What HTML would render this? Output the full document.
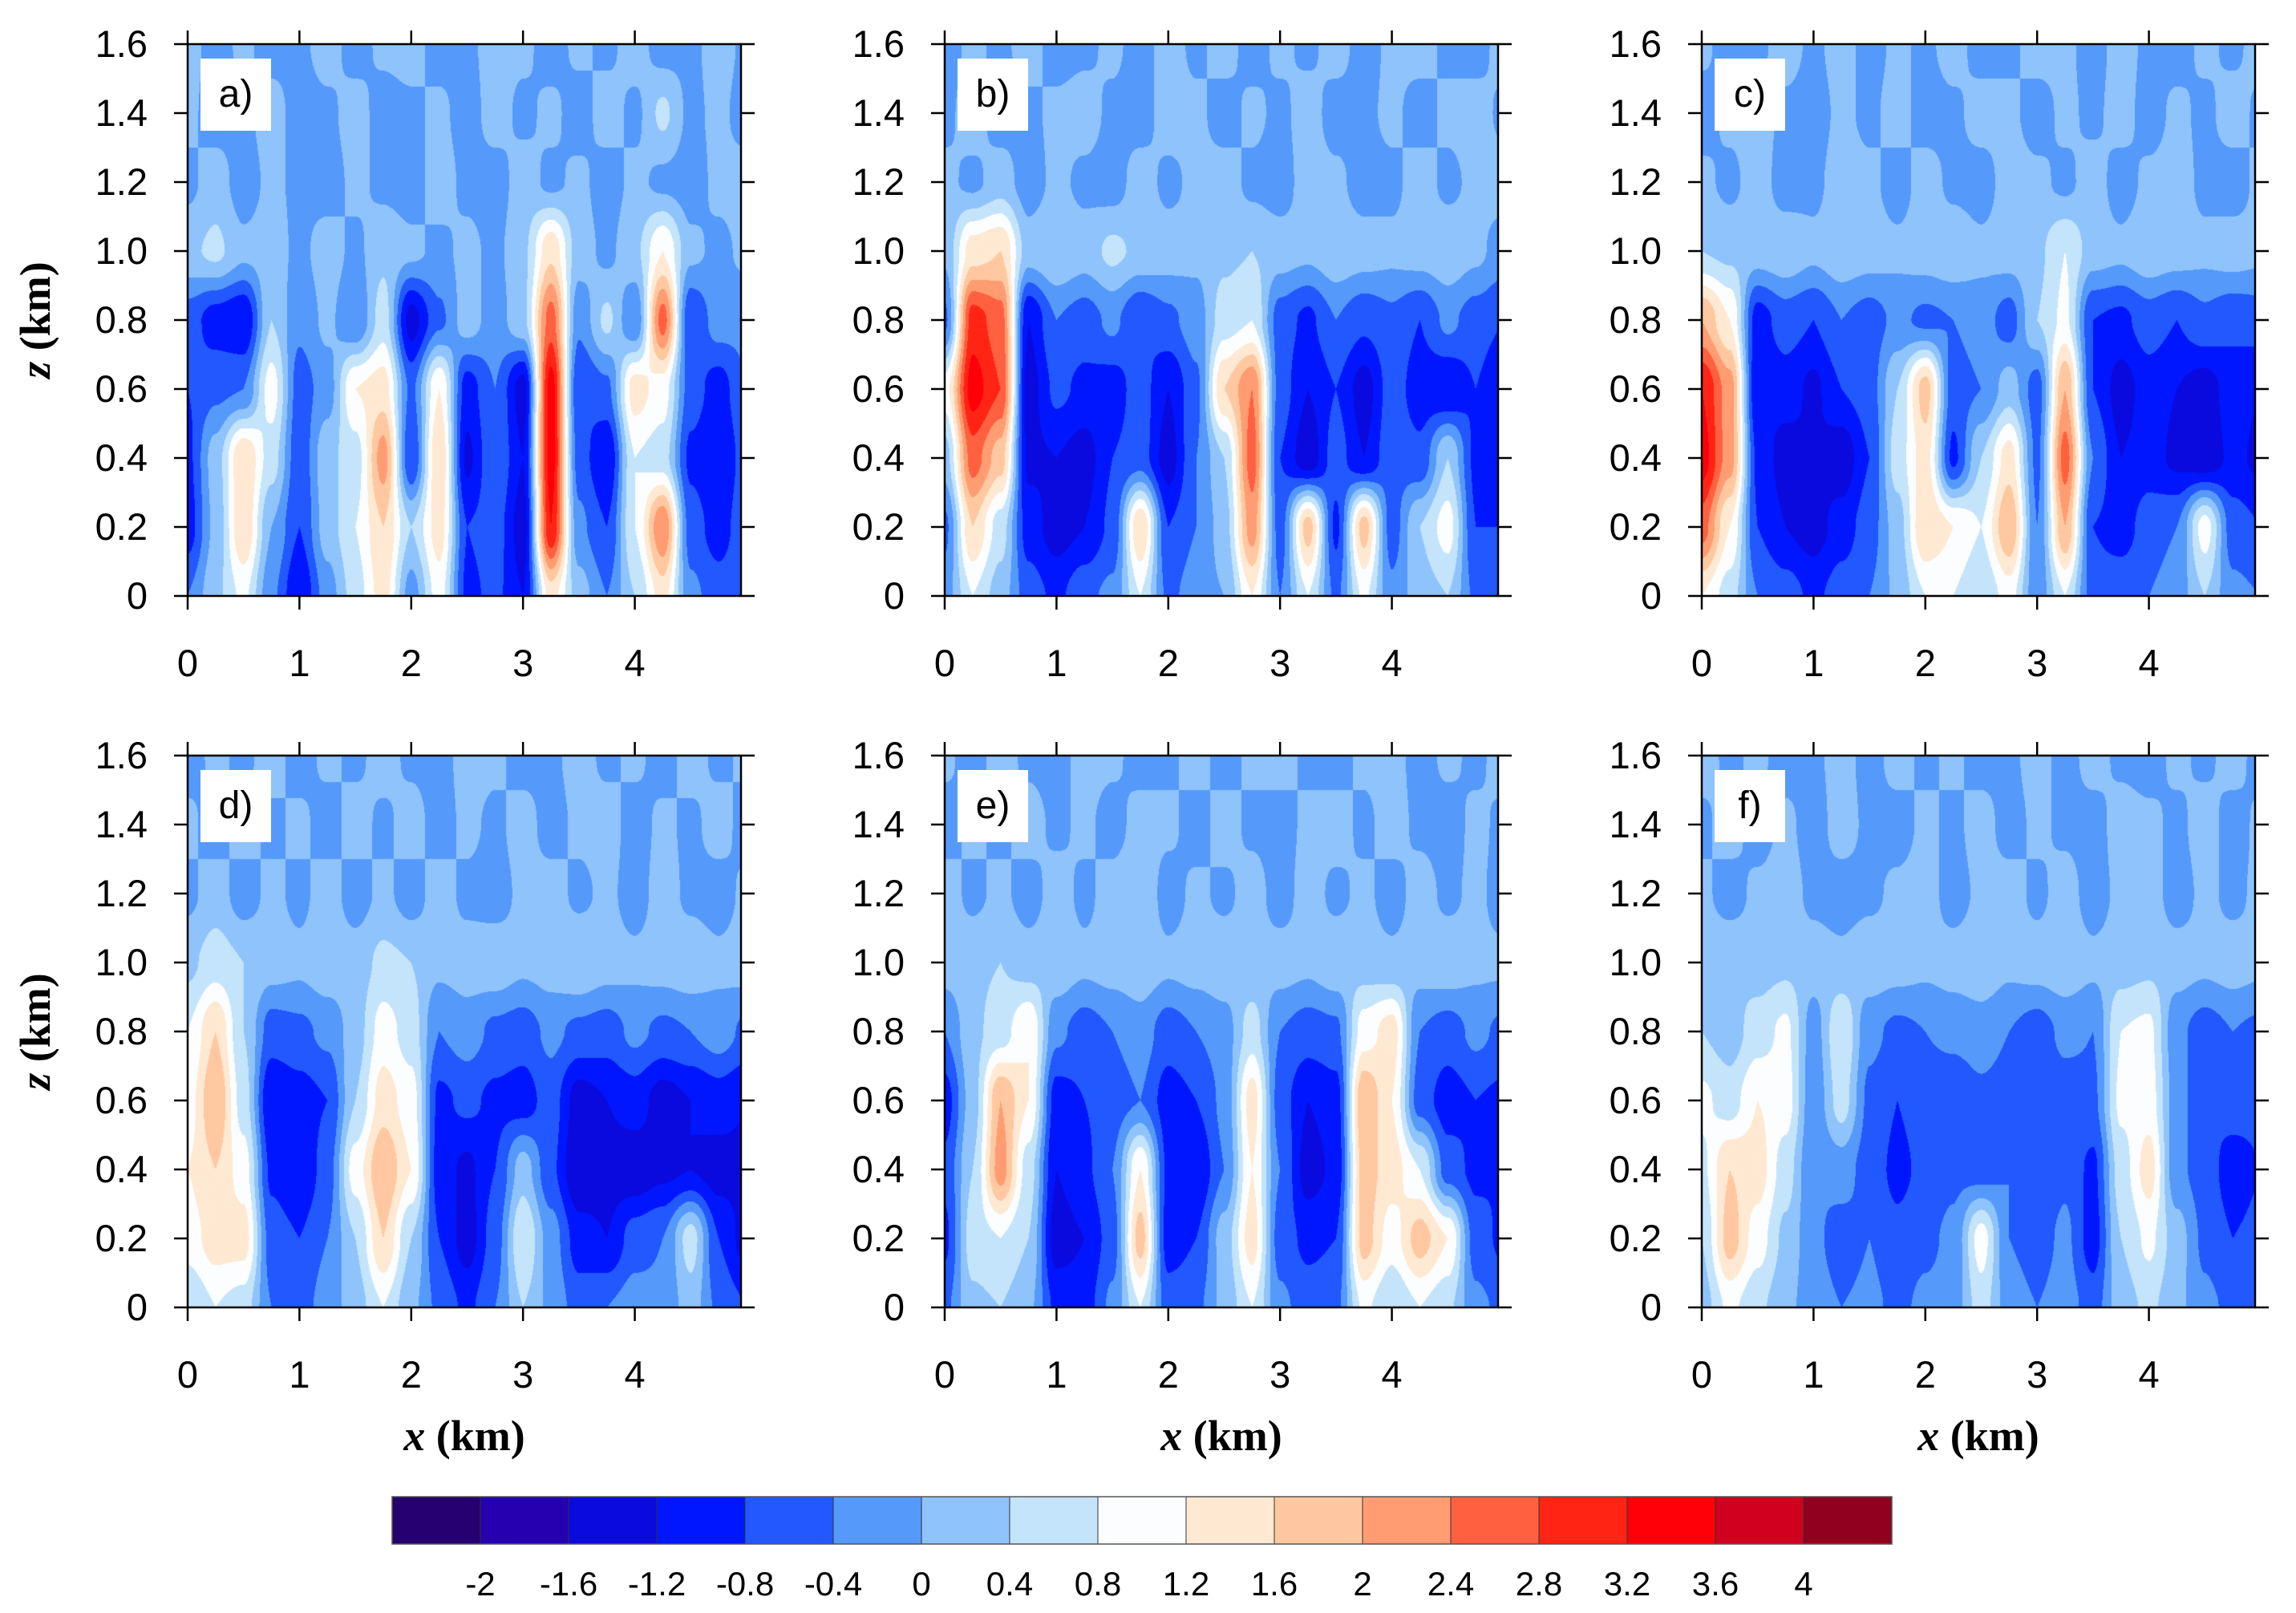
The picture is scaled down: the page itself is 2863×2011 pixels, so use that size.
<!DOCTYPE html>
<html><head><meta charset="utf-8"><style>
html,body{margin:0;padding:0;background:#fff;}
#root{position:relative;width:2863px;height:2011px;overflow:hidden;font-family:"Liberation Sans",sans-serif;}
canvas{position:absolute;}
svg{position:absolute;left:0;top:0;}
</style></head><body>
<div id="root">
<svg id="svg" width="2863" height="2011"></svg>
</div>
<script>
// ---- data ----
const levels = [-2,-1.6,-1.2,-0.8,-0.4,0,0.4,0.8,1.2,1.6,2,2.4,2.8,3.2,3.6,4];
const levelLabels = ["-2","-1.6","-1.2","-0.8","-0.4","0","0.4","0.8","1.2","1.6","2","2.4","2.8","3.2","3.6","4"];
const colors = ["#26006e","#2400b0","#0a0ade","#0016ff","#2258ff","#5599fb","#8fc3fb","#c4e4fb","#fbfdff","#ffe9d2","#ffc8a0","#ff9c72","#ff6040","#ff2414","#ff0008","#d0001e","#920020"];
const xTicks = [0,1,2,3,4];
const zTicks = [0,0.2,0.4,0.6,0.8,1.0,1.2,1.4,1.6];
const zTickLabels = ["0","0.2","0.4","0.6","0.8","1.0","1.2","1.4","1.6"];
const gridX = [0,0.25,0.5,0.75,1,1.25,1.5,1.75,2,2.25,2.5,2.75,3,3.25,3.5,3.75,4,4.25,4.5,4.75,5];
const gridZ = [1.6,1.4,1.2,1.0,0.8,0.6,0.4,0.2,0.0];
const panelLabels = ["a)","b)","c)","d)","e)","f)"];
const fieldA = [
[0.2,-0.2,0.1,-0.2,-0.1,0.2,-0.2,0.1,0.2,-0.2,-0.1,0.2,0.1,-0.2,0.1,-0.1,0.2,-0.2,-0.1,0.2,-0.1],
[0.1,-0.2,-0.1,0.2,-0.2,-0.1,0.2,-0.2,-0.1,0.1,-0.2,0.2,-0.1,0.1,-0.2,0.2,-0.1,0.5,-0.1,0.1,-0.2],
[-0.1,0.2,-0.2,0.1,-0.1,-0.2,0.1,-0.1,-0.2,0.2,-0.1,-0.2,0.2,-0.1,0.1,-0.2,0.1,-0.1,-0.2,0.1,0.2],
[0.3,0.5,0.1,0.2,-0.1,0.2,-0.1,0.3,0.1,-0.1,0.1,-0.1,0.3,1.5,0.2,-0.1,0.3,1.2,0.1,-0.1,0.1],
[-0.6,-1.0,-1.2,0.4,-0.3,0.1,-0.4,0.6,-1.4,-0.5,0.2,-0.2,0.3,2.6,-0.3,0.5,-0.4,2.6,-0.8,-0.2,-0.3],
[-0.8,-0.5,-0.4,1.0,-0.6,-0.2,1.2,1.4,-0.5,1.2,-1.0,-0.4,-1.4,3.4,-0.8,-0.5,1.4,1.0,-0.6,-1.0,-0.4],
[-0.9,0.2,1.6,0.6,-0.7,0.3,0.6,2.2,-0.8,1.6,-1.3,-0.4,-1.2,3.4,-0.6,-1.2,0.8,0.6,-0.9,-1.2,-0.6],
[-1.0,0.1,1.6,0.0,-0.8,0.2,0.8,1.6,0.4,1.4,-0.8,-0.6,-1.4,3.2,-0.3,-0.8,0.8,2.4,-0.6,-1.0,-0.5],
[-0.4,0.3,0.9,-0.3,-1.2,-0.2,0.6,1.4,-0.2,1.0,-0.9,-0.7,-1.2,1.4,0.2,-0.4,0.4,1.4,-0.3,-0.6,-0.4]];
const fieldB = [
[-0.2,0.1,-0.1,0.2,-0.2,-0.1,0.1,-0.2,0.2,-0.1,0.2,-0.2,0.1,-0.1,0.2,-0.2,0.1,0.2,-0.1,-0.2,0.2],
[-0.1,0.2,-0.2,-0.1,0.1,0.2,-0.1,-0.2,0.2,0.1,-0.2,0.1,-0.1,0.2,-0.2,-0.1,0.1,-0.2,0.1,0.2,-0.1],
[0.1,-0.1,0.2,-0.2,0.1,-0.1,-0.2,0.2,-0.1,0.1,0.2,-0.1,-0.2,0.2,0.1,-0.2,-0.1,0.2,-0.1,0.1,0.2],
[0.1,1.4,1.6,0.2,0.4,0.2,0.5,0.3,0.2,0.1,0.3,0.4,0.2,0.1,0.3,0.2,0.1,0.2,0.3,0.1,-0.2],
[-0.5,3.0,2.6,-1.2,-0.4,-0.6,-0.3,-0.8,-0.5,-0.2,0.6,0.8,-0.6,-0.9,-0.4,-0.7,-0.5,-0.8,-0.3,-0.6,-0.8],
[1.0,3.4,2.8,-1.4,-0.7,-0.9,-1.0,-0.6,-1.2,-0.5,1.6,2.4,-0.6,-1.2,-0.8,-1.4,-0.6,-1.0,-1.2,-0.8,-1.2],
[0.2,2.6,1.8,-1.3,-1.2,-1.4,-0.8,-0.6,-1.4,-0.4,0.4,2.6,-0.8,-1.5,-0.6,-1.2,-0.5,-0.7,0.4,-0.9,-1.0],
[-0.5,1.6,0.6,-1.0,-1.4,-1.2,-0.7,1.6,-0.8,-0.4,0.2,2.2,-0.6,1.8,-0.9,1.8,-0.6,0.4,1.0,-0.8,-0.8],
[-0.2,0.8,0.2,-0.6,-0.9,-0.5,-0.3,0.8,-0.5,-0.2,0.0,1.2,-0.4,0.8,-0.5,0.9,-0.3,0.2,0.4,-0.5,-0.4]];
const fieldC = [
[0.1,-0.2,-0.1,0.2,-0.1,0.2,-0.2,0.1,-0.1,0.2,-0.2,-0.1,0.2,0.1,-0.2,0.2,-0.1,-0.2,0.1,-0.1,0.2],
[-0.2,0.1,0.2,-0.1,-0.2,0.1,-0.1,0.2,-0.2,-0.1,0.2,0.1,-0.2,0.1,-0.1,0.2,-0.2,0.1,-0.1,0.2,-0.1],
[0.1,-0.1,0.2,-0.2,-0.1,0.2,0.1,-0.2,0.2,-0.1,-0.2,0.2,0.1,-0.1,0.2,-0.2,0.1,0.2,-0.1,-0.2,0.1],
[0.4,0.3,0.2,0.3,0.1,0.3,0.2,0.1,0.2,0.3,0.1,0.2,0.3,0.8,0.2,0.1,0.3,0.2,0.1,0.2,0.1],
[2.0,1.2,-1.0,-0.6,-0.8,-0.4,-0.6,-0.3,-0.5,-0.4,-0.2,-0.6,0.4,0.9,-0.8,-0.9,-0.6,-0.8,-0.5,-0.7,-0.6],
[3.2,2.2,-1.2,-1.0,-1.3,-0.8,-0.6,0.4,1.8,-0.6,-0.4,0.2,-0.6,2.0,-0.8,-1.4,-1.0,-1.2,-1.4,-1.0,-1.2],
[3.4,2.2,-0.9,-1.4,-1.2,-1.5,-0.8,0.6,1.4,-0.9,0.4,1.4,-0.5,2.6,-0.4,-1.2,-1.0,-1.3,-1.5,-1.1,-1.3],
[2.6,1.2,-0.8,-1.2,-1.4,-1.0,-0.6,0.2,1.6,1.2,0.8,2.0,-0.4,2.0,-0.8,-1.0,-0.6,-0.4,1.0,-0.6,-0.8],
[1.2,0.6,-0.4,-0.6,-0.9,-0.6,-0.4,0.1,0.8,0.8,0.4,1.0,-0.3,0.8,-0.6,-0.5,-0.4,-0.2,0.4,-0.3,-0.4]];
const fieldD = [
[-0.2,0.1,-0.1,0.2,-0.2,0.1,-0.1,0.2,-0.1,-0.2,0.2,0.1,-0.2,-0.1,0.2,-0.1,0.1,-0.2,0.2,-0.1,0.1],
[0.1,-0.2,0.2,-0.1,0.1,-0.2,0.2,-0.1,0.2,-0.2,0.1,-0.1,0.2,-0.2,0.1,0.2,-0.2,0.1,-0.1,0.2,-0.2],
[-0.1,0.2,-0.2,0.1,-0.1,0.2,-0.2,0.1,-0.2,0.2,-0.1,-0.2,0.1,0.2,-0.1,0.1,-0.2,0.2,-0.1,-0.2,0.1],
[0.3,0.6,0.4,0.2,0.1,0.3,0.2,0.5,0.4,0.1,0.2,0.3,0.1,0.2,0.4,0.2,0.1,0.2,0.3,0.1,0.2],
[0.8,1.6,0.4,-0.6,-0.5,-0.3,0.2,1.0,0.6,-0.4,-0.2,-0.5,-0.6,-0.3,-0.5,-0.6,-0.3,-0.5,-0.4,-0.2,-0.5],
[1.0,2.0,0.6,-1.2,-1.0,-0.8,0.4,1.4,1.0,-0.9,-0.7,-0.9,-1.0,-0.6,-1.4,-1.2,-1.0,-1.4,-1.2,-1.0,-1.2],
[1.2,1.6,1.0,-0.9,-1.2,-0.6,1.0,2.0,1.2,-1.0,-1.3,-0.8,0.2,-0.7,-1.6,-1.4,-1.5,-1.3,-1.2,-1.4,-1.3],
[1.0,1.4,1.4,-0.6,-0.8,-0.4,0.4,1.6,0.4,-0.8,-1.4,-0.6,0.8,-0.2,-1.0,-1.2,-0.6,-0.4,0.6,-0.8,-1.4],
[0.4,0.8,0.6,-0.4,-0.6,-0.2,0.2,0.8,0.1,-0.5,-0.9,-0.4,0.4,-0.1,-0.6,-0.4,-0.2,-0.3,0.2,-0.5,-0.8]];
const fieldE = [
[0.1,-0.2,0.2,-0.1,-0.2,0.2,0.1,-0.2,-0.1,0.2,-0.2,0.1,0.2,-0.1,-0.2,0.1,0.2,-0.2,0.1,-0.1,0.2],
[-0.2,0.1,-0.1,0.2,-0.1,0.1,-0.2,0.2,0.1,-0.2,0.2,-0.1,-0.2,0.1,0.2,-0.1,0.2,-0.1,-0.2,0.1,-0.1],
[0.2,-0.1,0.1,-0.2,0.2,-0.1,0.2,0.4,-0.2,0.1,-0.1,0.2,-0.2,0.2,-0.1,0.1,-0.2,0.2,-0.1,0.1,-0.2],
[0.2,0.3,0.4,0.2,0.3,0.1,0.2,0.3,0.1,0.2,0.3,0.1,0.2,0.1,0.3,0.2,0.1,0.2,0.3,0.1,0.1],
[-0.4,0.3,0.6,1.2,-0.3,-0.6,-0.4,-0.2,-0.6,-0.4,-0.2,0.6,-0.4,-0.6,-0.5,1.0,1.4,-0.4,-0.6,-0.3,-0.5],
[-1.0,0.2,2.0,1.2,-1.0,-0.8,-0.6,-0.4,-1.0,-0.8,-0.3,1.4,-0.6,-1.2,-1.0,2.0,1.2,-0.6,-1.0,-0.8,-0.9],
[-0.7,0.4,2.2,0.6,-1.2,-0.9,-0.4,1.2,-0.9,-1.2,-0.4,1.2,-0.4,-1.4,-1.1,1.8,1.4,0.8,-0.6,-0.9,-0.8],
[-0.9,0.6,0.8,0.4,-1.4,-1.2,-0.6,1.8,-1.0,-0.8,0.2,1.4,-0.6,-0.9,-0.8,1.8,1.0,1.8,1.2,-0.6,-0.9],
[-0.5,0.3,0.4,0.1,-0.9,-1.0,-0.3,0.8,-0.6,-0.5,0.1,0.8,-0.3,-0.6,-0.5,0.9,0.4,0.8,0.5,-0.3,-0.5]];
const fieldF = [
[0.2,-0.1,0.1,-0.2,-0.1,0.2,-0.2,0.2,-0.1,0.1,-0.2,-0.1,0.2,-0.2,0.2,-0.1,-0.2,0.1,-0.1,0.2,-0.2],
[-0.1,0.2,-0.2,0.1,-0.2,0.2,-0.1,-0.2,0.1,-0.1,0.2,-0.2,0.1,-0.1,-0.2,0.2,0.1,-0.1,0.2,-0.2,0.1],
[0.1,-0.2,0.1,0.2,-0.1,-0.2,-0.1,0.1,0.2,-0.2,0.1,0.2,-0.1,0.2,-0.2,0.1,0.2,-0.2,0.1,-0.1,0.1],
[0.3,0.4,0.2,0.3,0.2,0.1,0.3,0.2,0.1,0.2,0.3,0.1,0.2,0.3,0.1,0.2,0.3,0.2,0.1,0.2,0.1],
[0.4,0.2,0.6,0.9,-0.2,0.8,-0.3,-0.5,-0.4,-0.3,-0.2,-0.4,-0.6,-0.3,-0.4,0.8,0.9,-0.3,-0.6,-0.4,-0.5],
[0.9,0.6,1.2,1.0,-0.3,0.6,-0.5,-0.8,-0.6,-0.7,-0.5,-0.6,-0.8,-0.6,-0.5,0.9,1.0,-0.2,-0.8,-0.6,-0.7],
[0.7,1.6,1.4,0.6,-0.4,-0.2,-0.6,-0.9,-0.7,-0.5,-0.6,-0.4,-0.8,-0.5,-0.9,0.6,1.4,-0.3,-0.6,-1.0,-0.8],
[0.4,1.8,1.0,0.3,-0.3,-0.6,-0.4,-0.7,-0.5,-0.3,1.0,-0.4,-0.6,-0.3,-1.0,0.4,0.9,0.2,-0.5,-0.8,-0.7],
[0.2,0.9,0.5,0.1,-0.2,-0.4,-0.3,-0.5,-0.3,-0.2,0.6,-0.2,-0.4,-0.2,-0.6,0.2,0.5,0.1,-0.3,-0.5,-0.4]];
const fields = [fieldA,fieldB,fieldC,fieldD,fieldE,fieldF];

// ---- layout ----
const NS="http://www.w3.org/2000/svg";
const svg=document.getElementById('svg');
const root=document.getElementById('root');
const colLeft=[234,1178,2122], rowTop=[55,942], PW=690, PH=688, XMAX=4.95, ZMAX=1.6;
function mk(tag,attrs,parent){const e=document.createElementNS(NS,tag);for(const k in attrs)e.setAttribute(k,attrs[k]);(parent||svg).appendChild(e);return e;}
function hex(c){return [parseInt(c.substr(1,2),16),parseInt(c.substr(3,2),16),parseInt(c.substr(5,2),16)];}
const rgb=colors.map(hex);
function colorIndex(v){let i=0;while(i<levels.length&&v>=levels[i])i++;return i;}
function sample(f,x,z){
  const fx=x/(gridX[1]-gridX[0]); const fz=(gridZ[0]-z)/(gridZ[0]-gridZ[1]);
  let i=Math.min(Math.floor(fx),gridX.length-2), j=Math.min(Math.floor(fz),gridZ.length-2);
  const tx=fx-i, tz=fz-j;
  const sx=tx*tx*(3-2*tx), sz=tz*tz*(3-2*tz);
  const a=f[j][i],b=f[j][i+1],c=f[j+1][i],d=f[j+1][i+1];
  return (a*(1-sx)+b*sx)*(1-sz)+(c*(1-sx)+d*sx)*sz;
}
fields.forEach((f,p)=>{
  const L=colLeft[p%3], T=rowTop[Math.floor(p/3)];
  const xs=v=>L+v/XMAX*PW, zs=v=>T+PH-v/ZMAX*PH;
  const cv=document.createElement('canvas');
  cv.width=PW;cv.height=PH;cv.style.left=L+'px';cv.style.top=T+'px';
  
  
  root.insertBefore(cv,svg);
  const ctx=cv.getContext('2d');const img=ctx.createImageData(PW,PH);
  for(let y=0;y<PH;y++){const z=ZMAX*(1-(y+0.5)/PH);
    for(let x=0;x<PW;x++){const xv=XMAX*(x+0.5)/PW;
      const c=rgb[colorIndex(sample(f,xv,z))];const k=(y*PW+x)*4;
      img.data[k]=c[0];img.data[k+1]=c[1];img.data[k+2]=c[2];img.data[k+3]=255;}}
  ctx.putImageData(img,0,0);
  const g=mk('g',{});
  
  
  const fr=mk('rect',{x:L,y:T,width:PW,height:PH,fill:'none',stroke:'#000','stroke-width':2.5},g);
  
  
  xTicks.forEach(t=>{const X=xs(t);
    mk('line',{x1:X,x2:X,y1:T+PH,y2:T+PH+17,stroke:'#000','stroke-width':2.5},g);
    mk('line',{x1:X,x2:X,y1:T,y2:T-17,stroke:'#000','stroke-width':2.5},g);
    const tx=mk('text',{x:X,y:T+PH+100,'font-size':47,'text-anchor':'middle','font-family':'Liberation Sans, sans-serif'},g);
    tx.textContent=String(t);
    
    });
  zTicks.forEach((t,i)=>{const Y=zs(t);
    mk('line',{x1:L,x2:L-17,y1:Y,y2:Y,stroke:'#000','stroke-width':2.5},g);
    mk('line',{x1:L+PW,x2:L+PW+17,y1:Y,y2:Y,stroke:'#000','stroke-width':2.5},g);
    const tx=mk('text',{x:L-50,y:Y+16,'font-size':47,'text-anchor':'end','font-family':'Liberation Sans, sans-serif'},g);
    tx.textContent=zTickLabels[i];
    
    });
  const lb=mk('rect',{x:L+16,y:T+18,width:88,height:90,fill:'#fff'},g);
  
  
  const lt=mk('text',{x:L+60,y:T+78,'font-size':48,'text-anchor':'middle','font-family':'Liberation Sans, sans-serif'},g);
  lt.textContent=panelLabels[p];
  
  
  if(p%3===0){
    const yt=mk('text',{transform:`translate(${L-172},${T+PH/2}) rotate(-90)`,'font-size':54,'text-anchor':'middle','font-family':'Liberation Serif, serif','font-weight':'bold'},g);
    yt.innerHTML='<tspan font-style="italic">z</tspan> (km)';
    
    
  }
  if(p>=3){
    const xt=mk('text',{x:L+PW*0.5,y:T+PH+178,'font-size':54,'text-anchor':'middle','font-family':'Liberation Serif, serif','font-weight':'bold'},g);
    xt.innerHTML='<tspan font-style="italic">x</tspan> (km)';
    
    
  }
});
// colorbar
const CBL=489, CBR=2359, CBT=1866, CBH=59;
const cbw=(CBR-CBL)/colors.length;
const cb=mk('g',{});


colors.forEach((c,i)=>{const r=mk('rect',{x:CBL+i*cbw,y:CBT,width:cbw+0.5,height:CBH,fill:c},cb);
  
  });
levels.forEach((l,i)=>{const X=CBL+(i+1)*cbw;
  mk('line',{x1:X,x2:X,y1:CBT,y2:CBT+CBH,stroke:'#333','stroke-width':1},cb);
  const t=mk('text',{x:X,y:CBT+CBH+64,'font-size':42,'text-anchor':'middle','font-family':'Liberation Sans, sans-serif'},cb);
  t.textContent=levelLabels[i];
  
  });
mk('rect',{x:CBL,y:CBT,width:CBR-CBL,height:CBH,fill:'none',stroke:'#555','stroke-width':1.5},cb);
</script>
</body></html>
